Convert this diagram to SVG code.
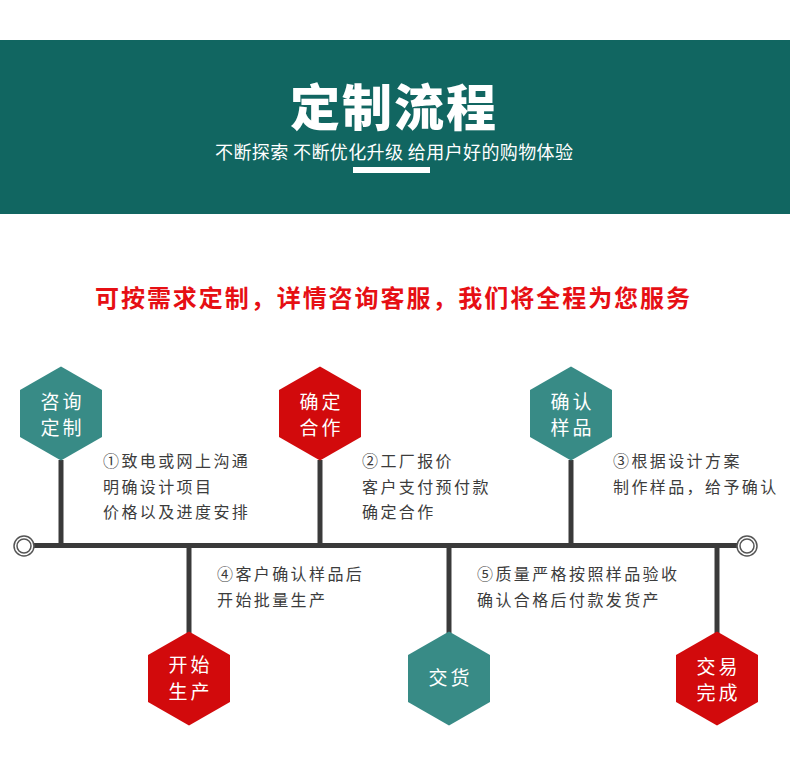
<svg xmlns="http://www.w3.org/2000/svg" xmlns:xlink="http://www.w3.org/1999/xlink" width="790" height="758" viewBox="0 0 790 758">
<style>
text { font-family: "Noto Sans CJK SC", "Noto Sans", sans-serif; }
.title { fill: #ffffff; font-size: 50px; font-weight: 900; }
.sub { fill: #ffffff; font-size: 18px; }
.head { fill: #e60f14; font-size: 24px; font-weight: 700; }
.hexlbl { fill: #ffffff; font-size: 19px; letter-spacing: 3px; text-anchor: middle; }
.desc { fill: #3c3c3c; font-size: 16px; letter-spacing: 2.4px; }
.teal { fill: #388b86; }
.red { fill: #d20a0c; }
.line { stroke: #3a3a3a; stroke-width: 5; fill: none; }
.ring { stroke: #555555; stroke-width: 1.5; fill: #ffffff; }
</style>
<defs>
<polygon id="hex" points="0,-47 41,-23.5 41,23.5 0,47 -41,23.5 -41,-23.5"/>
</defs>
<rect x="0" y="0" width="790" height="758" fill="#ffffff"/>
<g id="banner">
<rect x="0" y="40" width="790" height="174" fill="#116661"/>
<text class="title" x="393" y="126" text-anchor="middle" textLength="206" lengthAdjust="spacing">定制流程</text>
<text class="sub" x="394" y="159" text-anchor="middle" textLength="358" lengthAdjust="spacing">不断探索 不断优化升级 给用户好的购物体验</text>
<rect x="353" y="167" width="77" height="6" fill="#ffffff"/>
</g>
<g id="headline">
<text class="head" x="95" y="307" textLength="595" lengthAdjust="spacing">可按需求定制，详情咨询客服，我们将全程为您服务</text>
</g>
<g id="connectors">
<line class="line" x1="33" y1="545.5" x2="738" y2="545.5"/>
<line class="line" x1="61" y1="460" x2="61" y2="545"/>
<line class="line" x1="320" y1="460" x2="320" y2="545"/>
<line class="line" x1="571" y1="460" x2="571" y2="545"/>
<line class="line" x1="189" y1="546" x2="189" y2="633"/>
<line class="line" x1="449" y1="546" x2="449" y2="633"/>
<line class="line" x1="717" y1="546" x2="717" y2="633"/>
<circle class="ring" cx="24" cy="546" r="10"/>
<circle class="ring" cx="24" cy="546" r="7"/>
<circle class="ring" cx="747" cy="546" r="10"/>
<circle class="ring" cx="747" cy="546" r="7"/>
</g>
<g id="node1">
<use xlink:href="#hex" x="61" y="413.5" class="teal"/>
<text class="hexlbl" x="62.5" y="409">咨询</text>
<text class="hexlbl" x="62.5" y="435">定制</text>
<text class="desc" x="103" y="467">①致电或网上沟通</text>
<text class="desc" x="103" y="493">明确设计项目</text>
<text class="desc" x="103" y="518">价格以及进度安排</text>
</g>
<g id="node2">
<use xlink:href="#hex" x="320" y="413.5" class="red"/>
<text class="hexlbl" x="321.5" y="409">确定</text>
<text class="hexlbl" x="321.5" y="435">合作</text>
<text class="desc" x="362" y="467">②工厂报价</text>
<text class="desc" x="362" y="493">客户支付预付款</text>
<text class="desc" x="362" y="518">确定合作</text>
</g>
<g id="node3">
<use xlink:href="#hex" x="571" y="413.5" class="teal"/>
<text class="hexlbl" x="572.5" y="409">确认</text>
<text class="hexlbl" x="572.5" y="435">样品</text>
<text class="desc" x="613" y="467">③根据设计方案</text>
<text class="desc" x="613" y="493">制作样品，给予确认</text>
</g>
<g id="node4">
<use xlink:href="#hex" x="189" y="678.5" class="red"/>
<text class="hexlbl" x="190.5" y="672">开始</text>
<text class="hexlbl" x="190.5" y="699">生产</text>
<text class="desc" x="217" y="580">④客户确认样品后</text>
<text class="desc" x="217" y="606">开始批量生产</text>
</g>
<g id="node5">
<use xlink:href="#hex" x="449" y="678.5" class="teal"/>
<text class="hexlbl" x="450.5" y="685">交货</text>
<text class="desc" x="477" y="580">⑤质量严格按照样品验收</text>
<text class="desc" x="477" y="606">确认合格后付款发货产</text>
</g>
<g id="node6">
<use xlink:href="#hex" x="717" y="678.5" class="red"/>
<text class="hexlbl" x="718.5" y="674">交易</text>
<text class="hexlbl" x="718.5" y="700">完成</text>
</g>
</svg>
